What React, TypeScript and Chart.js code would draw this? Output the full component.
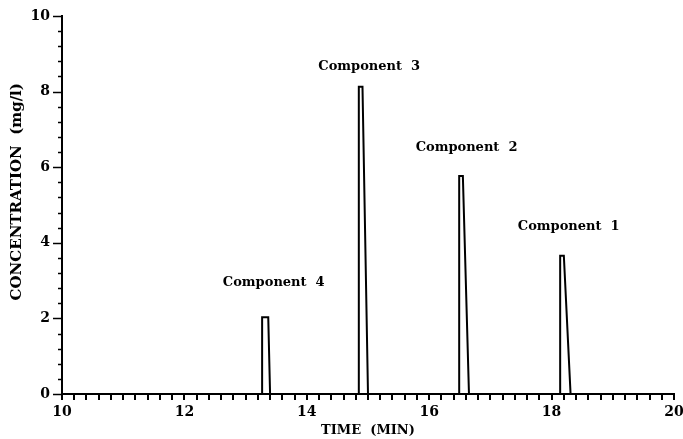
import React, { useEffect, useRef } from 'react';
import { Chart, registerables } from 'chart.js';

Chart.register(...registerables);

// ---- data ----
const components = ['Component 1', 'Component 2', 'Component 3', 'Component 4'];
const riseTime = [18.14, 16.49, 14.85, 13.27];
const topEndTime = [18.2, 16.55, 14.91, 13.37];
const fallTime = [18.31, 16.65, 15.0, 13.4];
const peakConc = [3.66, 5.77, 8.13, 2.03];
const labelTime = [18.28, 16.61, 15.02, 13.46];
const labelConc = [4.44, 6.51, 8.66, 2.94];

const xTickLabels = ['10', '12', '14', '16', '18', '20'];
const yTickLabels = ['0', '2', '4', '6', '8', '10'];
const xTitle = 'TIME  (MIN)';
const yTitle = 'CONCENTRATION  (mg/l)';

const FONT = '"DejaVu Serif", "Liberation Serif", serif';

const isLabelled = (v: number, list: string[]) =>
  list.some((s) => Math.abs(Number(s) - v) < 1e-6);

const peakDatasets = components.map((name, i) => ({
  label: name,
  data: [
    { x: riseTime[i], y: 0 },
    { x: riseTime[i], y: peakConc[i] },
    { x: topEndTime[i], y: peakConc[i] },
    { x: fallTime[i], y: 0 },
  ],
  borderColor: '#000',
  backgroundColor: '#000',
  borderWidth: 2,
  pointRadius: 0,
  tension: 0,
  fill: false,
}));

const decorPlugin = {
  id: 'decor',
  afterDraw(chart: any) {
    const { ctx } = chart;
    const x = chart.scales.x;
    const y = chart.scales.y;
    ctx.save();
    ctx.strokeStyle = '#000';
    ctx.lineCap = 'butt';
    // x tick marks (downward)
    ctx.lineWidth = 2;
    x.ticks.forEach((t: any) => {
      const px = Math.round(x.getPixelForValue(t.value));
      ctx.beginPath();
      ctx.moveTo(px, y.bottom);
      ctx.lineTo(px, y.bottom + 6);
      ctx.stroke();
    });
    // y tick marks (leftward)
    ctx.lineWidth = 1.5;
    y.ticks.forEach((t: any) => {
      const py = Math.round(y.getPixelForValue(t.value)) + 0.5;
      const len = isLabelled(t.value, yTickLabels) ? 9 : 4;
      ctx.beginPath();
      ctx.moveTo(x.left, py);
      ctx.lineTo(x.left - len, py);
      ctx.stroke();
    });
    // peak annotations
    ctx.fillStyle = '#000';
    ctx.font = `bold 13px ${FONT}`;
    ctx.textAlign = 'center';
    ctx.textBaseline = 'middle';
    components.forEach((c, i) => {
      ctx.fillText(
        c.replace(' ', '  '),
        x.getPixelForValue(labelTime[i]),
        y.getPixelForValue(labelConc[i])
      );
    });
    // y-axis title
    ctx.save();
    ctx.font = `bold 15px ${FONT}`;
    ctx.translate(17, y.getPixelForValue(5.35));
    ctx.rotate(-Math.PI / 2);
    ctx.fillText(yTitle, 0, 0);
    ctx.restore();
    // x-axis title
    ctx.font = `bold 13px ${FONT}`;
    ctx.fillText(xTitle, (x.left + x.right) / 2, 431);
    ctx.restore();
  },
};

export default function App() {
  const ref = useRef<HTMLCanvasElement | null>(null);
  useEffect(() => {
    if (!ref.current) return;
    const chart = new Chart(ref.current, {
      type: 'line',
      data: { datasets: peakDatasets as any },
      options: {
        animation: false,
        responsive: false,
        devicePixelRatio: 1,
        layout: { padding: { top: 16, right: 9, left: 0, bottom: 0 } },
        plugins: {
          legend: { display: false },
          tooltip: { enabled: false },
        },
        scales: {
          x: {
            type: 'linear',
            min: 10,
            max: 20,
            grid: { display: false, drawTicks: false },
            border: { display: true, color: '#000', width: 2 },
            ticks: {
              stepSize: 0.2,
              autoSkip: false,
              maxRotation: 0,
              padding: 10,
              color: '#000',
              font: { family: FONT, size: 14, weight: 'bold' },
              callback: (v: any) => (isLabelled(Number(v), xTickLabels) ? String(Math.round(Number(v))) : ''),
            },
            title: { display: false },
            afterFit: (s: any) => {
              s.height = 45;
              s.paddingLeft = 0;
              s.paddingRight = 0;
            },
          },
          y: {
            type: 'linear',
            min: 0,
            max: 10,
            grid: { display: false, drawTicks: false },
            border: { display: true, color: '#000', width: 2 },
            ticks: {
              stepSize: 0.4,
              autoSkip: false,
              padding: 12,
              color: '#000',
              font: { family: FONT, size: 14, weight: 'bold' },
              callback: (v: any) => (isLabelled(Number(v), yTickLabels) ? String(Math.round(Number(v))) : ''),
            },
            title: { display: false },
            afterFit: (s: any) => {
              s.width = 62;
              s.paddingTop = 0;
              s.paddingBottom = 0;
            },
          },
        },
      },
      plugins: [decorPlugin],
    });
    return () => chart.destroy();
  }, []);
  return (
    <div style={{ position: 'absolute', left: 0, top: 0, width: 683, height: 439, background: '#fff' }}>
      <canvas ref={ref} width={683} height={439} style={{ display: 'block' }} />
    </div>
  );
}
